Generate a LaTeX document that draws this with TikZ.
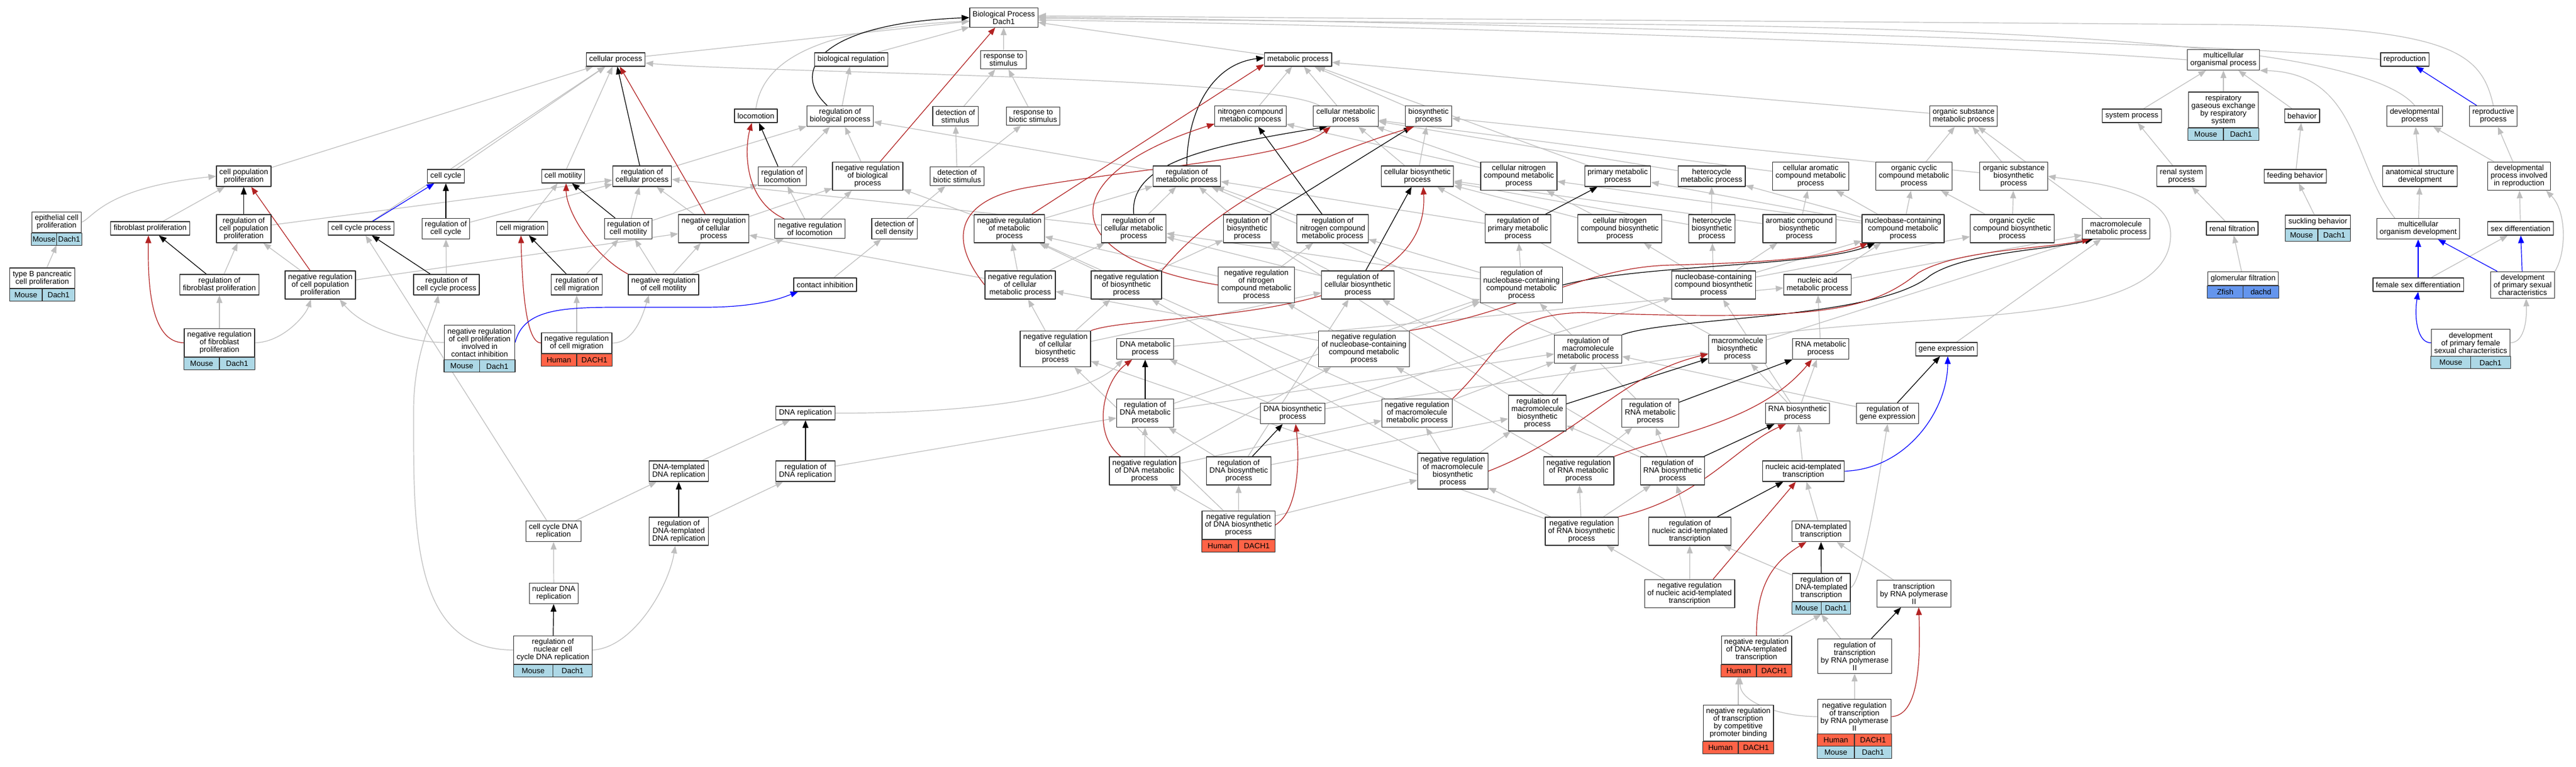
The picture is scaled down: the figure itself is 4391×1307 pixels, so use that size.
\documentclass[tikz,border=0pt]{standalone}
\usepackage{fontspec}
\setmainfont{Liberation Sans}
\usetikzlibrary{arrows.meta,calc,backgrounds}

\definecolor{isagrey}{HTML}{BEBEBE}
\definecolor{negred}{HTML}{B22222}
\definecolor{mousec}{HTML}{ADD8E6}
\definecolor{humanc}{HTML}{FF6347}
\definecolor{fishc}{HTML}{6495ED}

% species/gene strip under a term: node, row, fill, species, gene
\newcommand{\speciesbar}[5]{%
  \draw[barbox, fill=#3] ([yshift=-#2*21pt]#1.south west) rectangle ([yshift=-#2*21pt-21pt]#1.south east);
  \draw[barbox] ($([yshift=-#2*21pt]#1.south west)!.5!([yshift=-#2*21pt]#1.south east)$) -- ++(0,21);
  \node[bartext] at ($([yshift=-#2*21pt-10.5pt]#1.south west)!.25!([yshift=-#2*21pt-10.5pt]#1.south east)$) {#4};
  \node[bartext] at ($([yshift=-#2*21pt-10.5pt]#1.south west)!.75!([yshift=-#2*21pt-10.5pt]#1.south east)$) {#5};
}

\begin{document}
\begin{tikzpicture}[x=1pt, y=-1pt, font=\fontsize{13}{13}\selectfont, line join=round, >={Triangle[length=13pt,width=10pt]},
  term/.style={draw=black!80, line width=1.2pt, fill=white, align=center, inner xsep=5pt, inner ysep=5pt, minimum height=23pt},
  barbox/.style={draw=black!80, line width=1.2pt},
  bartext/.style={inner sep=0pt},
  isa/.style={->, draw=isagrey, line width=1.2pt},
  rg/.style={->, draw=black, line width=1.2pt},
  nrg/.style={->, draw=negred, line width=1.2pt},
  part/.style={->, draw=blue, line width=1.2pt}]
\useasboundingbox (0,0) rectangle (4391,1307);

% top levels
\node[term] (bp) at (1711,30) {Biological Process\\Dach1};
\node[term] (cellp) at (1049.5,101.5) {cellular process};
\node[term] (bioreg) at (1451,101.5) {biological regulation};
\node[term] (respstim) at (1710.5,102) {response to\\stimulus};
\node[term] (metp) at (2212.5,101.5) {metabolic process};
\node[term] (mcop) at (3790,102) {multicellular\\organismal process};
\node[term] (repro) at (4099,101.5) {reproduction};

\node[term] (locom) at (1288.5,197.5) {locomotion};
\node[term] (regbp) at (1432,198) {regulation of\\biological process};
\node[term] (detstim) at (1628.5,198) {detection of\\stimulus};
\node[term] (respbio) at (1761,198) {response to\\biotic stimulus};
\node[term] (ncmp) at (2131.5,198) {nitrogen compound\\metabolic process};
\node[term] (cmp) at (2294,198) {cellular metabolic\\process};
\node[term] (biosyn) at (2435,198) {biosynthetic\\process};
\node[term] (osmp) at (3347,198) {organic substance\\metabolic process};
\node[term] (sysp) at (3634,197.5) {system process};
\node[term] (resp) at (3790,187.5) {respiratory\\gaseous exchange\\by respiratory\\system};
\node[term] (behav) at (3924,197.5) {behavior};
\node[term] (devp) at (4116,198) {developmental\\process};
\node[term] (reprop) at (4250,198) {reproductive\\process};

\node[term] (cpp) at (415.5,300.5) {cell population\\proliferation};
\node[term] (ccyc) at (760,300.5) {cell cycle};
\node[term] (cmot) at (960,300.5) {cell motility};
\node[term] (regcp) at (1094.5,300.5) {regulation of\\cellular process};
\node[term] (regloc) at (1333.5,300.5) {regulation of\\locomotion};
\node[term] (nregbp) at (1479,300.5) {negative regulation\\of biological\\process};
\node[term] (detbio) at (1631.5,300.5) {detection of\\biotic stimulus};
\node[term] (regmp) at (2023,300.5) {regulation of\\metabolic process};
\node[term] (cbp) at (2416,300.5) {cellular biosynthetic\\process};
\node[term] (cncmp) at (2589,300.5) {cellular nitrogen\\compound metabolic\\process};
\node[term] (pmp) at (2757.5,300.5) {primary metabolic\\process};
\node[term] (hmp) at (2917.5,300.5) {heterocycle\\metabolic process};
\node[term] (camp) at (3086.5,300.5) {cellular aromatic\\compound metabolic\\process};
\node[term] (occmp) at (3262.5,300.5) {organic cyclic\\compound metabolic\\process};
\node[term] (osbp) at (3432.5,300.5) {organic substance\\biosynthetic\\process};
\node[term] (rsp) at (3718.5,300.5) {renal system\\process};
\node[term] (feed) at (3912.5,300.5) {feeding behavior};
\node[term] (asd) at (4125,300.5) {anatomical structure\\development};
\node[term] (dpir) at (4294,300.5) {developmental\\process involved\\in reproduction};

\node[term] (epi) at (96.5,379) {epithelial cell\\proliferation};
\node[term] (fibro) at (256,389.5) {fibroblast proliferation};
\node[term] (regcpp) at (415.5,390) {regulation of\\cell population\\proliferation};
\node[term] (ccp) at (615.5,389.5) {cell cycle process};
\node[term] (regcc) at (760,390) {regulation of\\cell cycle};
\node[term] (cmig) at (890,389.5) {cell migration};
\node[term] (regcmot) at (1071,390) {regulation of\\cell motility};
\node[term] (nregcp) at (1216.5,390) {negative regulation\\of cellular\\process};
\node[term] (nregloc) at (1380.5,390) {negative regulation\\of locomotion};
\node[term] (detcd) at (1524.5,390) {detection of\\cell density};
\node[term] (nregmp) at (1720.5,390) {negative regulation\\of metabolic\\process};
\node[term] (regcmp) at (1932.5,390) {regulation of\\cellular metabolic\\process};
\node[term] (regbsp) at (2126,390) {regulation of\\biosynthetic\\process};
\node[term] (regncmp) at (2271.5,390) {regulation of\\nitrogen compound\\metabolic process};
\node[term] (regpmp) at (2587.5,390) {regulation of\\primary metabolic\\process};
\node[term] (cncbp) at (2761,390) {cellular nitrogen\\compound biosynthetic\\process};
\node[term] (hbp) at (2918,390) {heterocycle\\biosynthetic\\process};
\node[term] (acbp) at (3067,390) {aromatic compound\\biosynthetic\\process};
\node[term] (ncmpn) at (3244,390) {nucleobase-containing\\compound metabolic\\process};
\node[term] (occbp) at (3430,390) {organic cyclic\\compound biosynthetic\\process};
\node[term] (mmp) at (3607,390) {macromolecule\\metabolic process};
\node[term] (renf) at (3805,389.5) {renal filtration};
\node[term] (suck) at (3951,378.5) {suckling behavior};
\node[term] (mod) at (4122,390) {multicellular\\organism development};
\node[term] (sexd) at (4296.5,389.5) {sex differentiation};

\node[term] (typeb) at (72,474.5) {type B pancreatic\\cell proliferation};
\node[term] (regfib) at (374,485.5) {regulation of\\fibroblast proliferation};
\node[term] (nregcpp) at (546,486) {negative regulation\\of cell population\\proliferation};
\node[term] (regccp) at (761,485.5) {regulation of\\cell cycle process};
\node[term] (regcmig) at (983,485.5) {regulation of\\cell migration};
\node[term] (nregcmot) at (1131,485.5) {negative regulation\\of cell motility};
\node[term] (continh) at (1406.5,485.5) {contact inhibition};
\node[term] (nregcmp) at (1739,486) {negative regulation\\of cellular\\metabolic process};
\node[term] (nregbsp) at (1920,486) {negative regulation\\of biosynthetic\\process};
\node[term] (nregncmp) at (2141.5,486) {negative regulation\\of nitrogen\\compound metabolic\\process};
\node[term] (regcbp) at (2314.5,486) {regulation of\\cellular biosynthetic\\process};
\node[term] (regnccmp) at (2593.5,486) {regulation of\\nucleobase-containing\\compound metabolic\\process};
\node[term] (ncbp) at (2921,486) {nucleobase-containing\\compound biosynthetic\\process};
\node[term] (namp) at (3098,485.5) {nucleic acid\\metabolic process};
\node[term] (glom) at (3823.5,475) {glomerular filtration};
\node[term] (fsd) at (4122,485.5) {female sex differentiation};
\node[term] (dpsc) at (4300,486) {development\\of primary sexual\\characteristics};

\node[term] (nregfib) at (374,584.5) {negative regulation\\of fibroblast\\proliferation};
\node[term] (nregci) at (817.5,584) {negative regulation\\of cell proliferation\\involved in\\contact inhibition};
\node[term] (nregcmig) at (983,585) {negative regulation\\of cell migration};
\node[term] (nregcbp) at (1799,595) {negative regulation\\of cellular\\biosynthetic\\process};
\node[term] (dnamp) at (1952,595) {DNA metabolic\\process};
\node[term] (nregnccmp) at (2325,595) {negative regulation\\of nucleobase-containing\\compound metabolic\\process};
\node[term] (regmmp) at (2707,595.5) {regulation of\\macromolecule\\metabolic process};
\node[term] (mbp) at (2961.5,595.5) {macromolecule\\biosynthetic\\process};
\node[term] (rnamp) at (3103.5,595) {RNA metabolic\\process};
\node[term] (geneexp) at (3318,595.5) {gene expression};
\node[term] (dpfsc) at (4211.5,584.5) {development\\of primary female\\sexual characteristics};

\node[term] (dnarep) at (1373,704.5) {DNA replication};
\node[term] (regdnamp) at (1952,704.5) {regulation of\\DNA metabolic\\process};
\node[term] (dnabp) at (2203.5,705) {DNA biosynthetic\\process};
\node[term] (nregmmp) at (2415.5,704.5) {negative regulation\\of macromolecule\\metabolic process};
\node[term] (regmbp) at (2620.5,704.5) {regulation of\\macromolecule\\biosynthetic\\process};
\node[term] (regrnamp) at (2813,704.5) {regulation of\\RNA metabolic\\process};
\node[term] (rnabp) at (3064,705) {RNA biosynthetic\\process};
\node[term] (reggeneexp) at (3217.5,705) {regulation of\\gene expression};

\node[term] (dtdnarep) at (1157,803.5) {DNA-templated\\DNA replication};
\node[term] (regdnarep) at (1373,803.5) {regulation of\\DNA replication};
\node[term] (nregdnamp) at (1951,803) {negative regulation\\of DNA metabolic\\process};
\node[term] (regdnabp) at (2111.5,803) {regulation of\\DNA biosynthetic\\process};
\node[term] (nregmbp) at (2476.5,803.5) {negative regulation\\of macromolecule\\biosynthetic\\process};
\node[term] (nregrnamp) at (2691,803) {negative regulation\\of RNA metabolic\\process};
\node[term] (regrnabp) at (2851,803) {regulation of\\RNA biosynthetic\\process};
\node[term] (natt) at (3074,803.5) {nucleic acid-templated\\transcription};

\node[term] (ccdnarep) at (943.5,906) {cell cycle DNA\\replication};
\node[term] (regdtdnarep) at (1157,906) {regulation of\\DNA-templated\\DNA replication};
\node[term] (nregdnabp) at (2111,895.5) {negative regulation\\of DNA biosynthetic\\process};
\node[term] (nregrnabp) at (2696,906) {negative regulation\\of RNA biosynthetic\\process};
\node[term] (regnatt) at (2880.5,906) {regulation of\\nucleic acid-templated\\transcription};
\node[term] (dtt) at (3104,906) {DNA-templated\\transcription};

\node[term] (nucdnarep) at (944,1012) {nuclear DNA\\replication};
\node[term] (nregnatt) at (2880,1012.5) {negative regulation\\of nucleic acid-templated\\transcription};
\node[term] (regdtt) at (3104.5,1002) {regulation of\\DNA-templated\\transcription};
\node[term] (trpol) at (3262.5,1012.5) {transcription\\by RNA polymerase\\II};

\node[term] (regnccdr) at (942.5,1108.5) {regulation of\\nuclear cell\\cycle DNA replication};
\node[term] (nregdtt) at (2994,1108.5) {negative regulation\\of DNA-templated\\transcription};
\node[term] (regtrpol) at (3161.5,1119) {regulation of\\transcription\\by RNA polymerase\\II};

\node[term] (nregcpb) at (2963,1233) {negative regulation\\of transcription\\by competitive\\promoter binding};
\node[term] (nregtrpol) at (3161,1222) {negative regulation\\of transcription\\by RNA polymerase\\II};

% species strips
\speciesbar{epi}{0}{mousec}{Mouse}{Dach1}
\speciesbar{typeb}{0}{mousec}{Mouse}{Dach1}
\speciesbar{nregfib}{0}{mousec}{Mouse}{Dach1}
\speciesbar{nregci}{0}{mousec}{Mouse}{Dach1}
\speciesbar{nregcmig}{0}{humanc}{Human}{DACH1}
\speciesbar{resp}{0}{mousec}{Mouse}{Dach1}
\speciesbar{suck}{0}{mousec}{Mouse}{Dach1}
\speciesbar{glom}{0}{fishc}{Zfish}{dachd}
\speciesbar{dpfsc}{0}{mousec}{Mouse}{Dach1}
\speciesbar{nregdnabp}{0}{humanc}{Human}{DACH1}
\speciesbar{regdtt}{0}{mousec}{Mouse}{Dach1}
\speciesbar{nregdtt}{0}{humanc}{Human}{DACH1}
\speciesbar{regnccdr}{0}{mousec}{Mouse}{Dach1}
\speciesbar{nregcpb}{0}{humanc}{Human}{DACH1}
\speciesbar{nregtrpol}{0}{humanc}{Human}{DACH1}
\speciesbar{nregtrpol}{1}{mousec}{Mouse}{Dach1}

\coordinate (epibar) at ([yshift=-21pt]epi.south);
\coordinate (regdttbar) at ([yshift=-21pt]regdtt.south);
\coordinate (nregdttbar) at ([yshift=-21pt]nregdtt.south);

\begin{pgfonlayer}{background}
\fill[white] (0,0) rectangle (4391,1307);
% is_a
\foreach \a/\b in {cellp/bp, bioreg/bp, respstim/bp, metp/bp,
  regbp/bioreg, detstim/respstim, respbio/respstim, detbio/detstim, detbio/respbio, detcd/detbio, continh/detcd,
  regloc/regbp, nregbp/regbp, regcp/regbp, regmp/regbp, nregloc/regloc, nregloc/nregbp, regcmot/regloc, nregcmot/nregloc,
  nregcp/regcp, nregcp/nregbp, nregmp/nregbp, nregmp/regmp,
  cpp/cellp, fibro/cpp, regcpp/regcp, nregcpp/regcpp, nregcpp/nregcp, regfib/regcpp, nregfib/regfib,
  ccyc/cellp, ccp/cellp, regcc/regcp, regccp/regcc, cmot/cellp, cmig/cmot, regcmot/regcp, regcmig/regcmot, nregcmot/regcmot,
  nregcmot/nregcp, nregcmig/regcmig,
  ccdnarep/ccp, ccdnarep/dtdnarep, nucdnarep/ccdnarep,
  dtdnarep/dnarep, regdtdnarep/regdnarep, regdnarep/regdnamp,
  cmp/metp, ncmp/metp, biosyn/metp, osmp/metp, pmp/metp,
  cbp/biosyn, cbp/cmp, cncmp/ncmp, cncmp/cmp, hmp/cmp, camp/cmp, occmp/osmp, osbp/osmp, osbp/biosyn, mmp/osmp,
  ncmpn/cncmp, ncmpn/hmp, ncmpn/camp, ncmpn/occmp, ncmpn/pmp,
  cncbp/cncmp, cncbp/cbp, hbp/hmp, hbp/cbp, acbp/camp, acbp/cbp, occbp/occmp, occbp/osbp,
  ncbp/ncmpn, ncbp/cncbp, ncbp/hbp, ncbp/acbp, ncbp/occbp,
  namp/ncmpn, namp/mmp, rnamp/namp, dnamp/namp, mbp/mmp, mbp/cbp,
  geneexp/mmp, dnabp/dnamp, dnabp/ncbp, dnabp/mbp, rnabp/rnamp, rnabp/ncbp, rnabp/mbp, natt/rnabp, dtt/natt, trpol/dtt,
  regcmp/regmp, regcmp/regcp, regbsp/regmp, regncmp/regmp, regpmp/regmp, regmmp/regmp,
  nregcmp/nregmp, nregcmp/regcmp, nregcmp/nregcp, nregbsp/nregmp, nregbsp/regbsp, nregncmp/nregmp, nregncmp/regncmp,
  regcbp/regbsp, regcbp/regcmp, regnccmp/regcmp, regnccmp/regncmp, regnccmp/regpmp,
  nregcbp/nregcmp, nregcbp/nregbsp, nregcbp/regcbp, nregnccmp/regnccmp, nregnccmp/nregcmp, nregnccmp/nregncmp,
  nregmmp/regmmp, nregmmp/nregmp, regdnamp/regmmp, regdnamp/regnccmp,
  nregdnamp/regdnamp, nregdnamp/nregmmp, nregdnamp/nregnccmp, regdnabp/regdnamp, regdnabp/regcbp, regdnabp/regmbp,
  nregdnabp/regdnabp, nregdnabp/nregdnamp, nregdnabp/nregcbp, nregdnabp/nregmbp,
  regmbp/regbsp, regmbp/regmmp, nregmbp/regmbp, nregmbp/nregbsp, nregmbp/nregmmp,
  regrnamp/regnccmp, nregrnamp/regrnamp, nregrnamp/nregnccmp, regrnabp/regrnamp, regrnabp/regcbp, regrnabp/regmbp,
  nregrnabp/regrnabp, nregrnabp/nregrnamp, nregrnabp/nregmbp, nregrnabp/nregcbp,
  regnatt/regrnabp, nregnatt/regnatt, nregnatt/nregrnabp, reggeneexp/regmmp, regdtt/regnatt,
  nregtrpol/regtrpol,
  sysp/mcop, resp/mcop, behav/mcop, rsp/sysp, renf/rsp, glom/renf, feed/behav, suck/feed,
  asd/devp, dpir/devp, dpir/reprop, mod/asd, sexd/dpir, fsd/sexd}
  \draw[isa] (\a) -- (\b);
% is_a, routed round
\draw[isa] (mcop.west) .. controls (3300,70) and (2300,42) .. ([yshift=-4pt]bp.east);
\draw[isa] (repro.west) .. controls (3800,70) and (2400,36) .. ([yshift=1pt]bp.east);
\draw[isa] (devp.north) .. controls (4040,90) and (3600,45) .. (2600,40) -- ([yshift=-1pt]bp.east);
\draw[isa] (reprop.north) .. controls (4230,90) and (4180,48) .. (3800,42) -- ([yshift=3pt]bp.east);
\draw[isa] (locom.north) .. controls (1300,100) and (1400,48) .. ([yshift=-6pt]bp.west);
\draw[isa] ([xshift=-45pt]cmp.north) .. controls (2150,128) and (1300,125) .. ([yshift=-6pt]cellp.east);
\draw[isa] (epi.east) .. controls (160,370) and (180,320) .. (cpp.west);
\draw[isa] (nregfib.east) .. controls (480,584) and (520,540) .. ([xshift=-16pt]nregcpp.south);
\draw[isa] (nregci.west) .. controls (700,584) and (620,560) .. ([xshift=33pt]nregcpp.south);
\draw[isa] (nregcmig.east) .. controls (1080,585) and (1095,540) .. ([xshift=-25pt]nregcmot.south);
\draw[isa] (regnccdr.west) .. controls (700,1108) and (705,900) .. (705,700) .. controls (705,600) and (740,540) .. ([xshift=-14pt]regccp.south);
\draw[isa] (regnccdr.east) .. controls (1080,1105) and (1140,1000) .. ([xshift=-6pt]regdtdnarep.south);
\draw[isa] (dnarep.east) .. controls (1650,705) and (1850,680) .. ([xshift=-38pt]dnamp.south);
\draw[isa] (mbp.north east) .. controls (3300,530) and (3700,560) .. (3700,400) .. controls (3700,320) and (3550,310) .. (osbp.east);
\draw[isa] (regdtt.east) .. controls (3175,995) and (3205,800) .. (reggeneexp.south);
\draw[isa] ([xshift=-40pt]mod.north) .. controls (4010,280) and (4020,125) .. (mcop.south east);
\draw[isa] (dpsc.north east) .. controls (4375,430) and (4375,360) .. ([xshift=-8pt]dpir.south east);
\draw[isa] (dpfsc.east) .. controls (4305,584) and (4307,540) .. ([xshift=6pt]dpsc.south);
\draw[isa] (typeb) -- (epibar);
\draw[isa] (nregdtt) -- (regdttbar);
\draw[isa] (regtrpol) -- (regdttbar);
\draw[isa] (nregcpb) -- ([xshift=-31pt]nregdttbar);
\draw[isa] (nregtrpol.west) .. controls (3040,1222) and (2966,1200) .. ([xshift=-28pt]nregdttbar);

% regulates
\draw[rg] ([xshift=-22pt]regbp.north) .. controls (1345,120) and (1400,40) .. (bp.west);
\draw[rg] (regcp) -- (cellp);
\draw[rg] (regmp.north) .. controls (2023,200) and (2060,110) .. ([yshift=3pt]metp.west);
\draw[rg] (regcmp.north) .. controls (1925,280) and (2050,250) .. ([xshift=-32pt]cmp.south);
\draw[rg] (regbsp) -- (biosyn);
\draw[rg] (regncmp) -- (ncmp);
\draw[rg] (regpmp) -- (pmp);
\draw[rg] (regcbp) -- (cbp);
\draw[rg] (regnccmp.east) .. controls (2800,450) and (3100,455) .. ([xshift=-48pt]ncmpn.south);
\draw[rg] (regmmp.north east) .. controls (2850,540) and (3200,545) .. (3290,470) .. controls (3350,430) and (3500,425) .. ([xshift=-40pt]mmp.south);
\draw[rg] (regdnamp) -- (dnamp);
\draw[rg] (regmbp) -- (mbp);
\draw[rg] (regrnamp) -- (rnamp);
\draw[rg] (regdnabp) -- (dnabp);
\draw[rg] (regrnabp) -- (rnabp);
\draw[rg] (regnatt) -- (natt);
\draw[rg] (reggeneexp) -- (geneexp);
\draw[rg] (regdtt) -- (dtt);
\draw[rg] (regtrpol) -- (trpol);
\draw[rg] (regdnarep) -- (dnarep);
\draw[rg] (regdtdnarep) -- (dtdnarep);
\draw[rg] (regnccdr) -- (nucdnarep);
\draw[rg] (regcpp) -- (cpp);
\draw[rg] (regfib) -- (fibro);
\draw[rg] (regcc) -- (ccyc);
\draw[rg] (regccp) -- (ccp);
\draw[rg] (regcmot) -- (cmot);
\draw[rg] (regcmig) -- (cmig);
\draw[rg] (regloc) -- (locom);

% negatively regulates
\draw[nrg] (nregbp) -- (bp);
\draw[nrg] (nregcp) -- (cellp);
\draw[nrg] (nregmp) -- ([yshift=-8pt]metp.west);
\draw[nrg] (nregcmp.west) .. controls (1610,400) and (1640,340) .. (1750,320) .. controls (1950,285) and (2200,270) .. ([xshift=-26pt]cmp.south);
\draw[nrg] (nregbsp.north east) .. controls (2080,340) and (2250,265) .. ([xshift=-25pt]biosyn.south);
\draw[nrg] (nregncmp.west) .. controls (1800,440) and (1790,300) .. ([yshift=5pt]ncmp.south west);
\draw[nrg] (nregcbp.north east) .. controls (1950,530) and (2440,560) .. ([xshift=10pt]cbp.south);
\draw[nrg] (nregnccmp.north east) .. controls (2600,530) and (2700,455) .. (2850,452) .. controls (3000,448) and (3120,440) .. ([xshift=-60pt]ncmpn.south);
\draw[nrg] (nregmmp.north east) .. controls (2560,600) and (2560,535) .. (2700,533) .. controls (3100,548) and (3190,530) .. (3270,465) .. controls (3340,425) and (3480,425) .. ([xshift=-45pt]mmp.south);
\draw[nrg] ([xshift=20pt]nregdnamp.north west) .. controls (1860,740) and (1880,650) .. ([xshift=-22pt]dnamp.south);
\draw[nrg] (nregmbp.east) .. controls (2700,740) and (2760,640) .. ([yshift=-8pt]mbp.west);
\draw[nrg] (nregrnamp.north east) .. controls (2850,740) and (3000,720) .. ([xshift=-15pt]rnamp.south);
\draw[nrg] (nregdnabp.east) .. controls (2215,870) and (2215,780) .. ([xshift=5pt]dnabp.south);
\draw[nrg] (nregrnabp.north east) .. controls (2900,850) and (2960,760) .. ([xshift=-20pt]rnabp.south);
\draw[nrg] ([xshift=40pt]nregnatt.north) -- ([xshift=-13pt]natt.south);
\draw[nrg] (nregdtt.north) .. controls (2994,1000) and (3020,960) .. ([xshift=-25pt]dtt.south);
\draw[nrg] (nregtrpol.east) .. controls (3265,1220) and (3275,1150) .. ([xshift=8pt]trpol.south);
\draw[nrg] (nregcpp) -- (cpp);
\draw[nrg] (nregfib.west) .. controls (255,584) and (252,480) .. ([xshift=-3pt]fibro.south);
\draw[nrg] (nregcmot.north west) .. controls (1010,435) and (965,360) .. ([xshift=5pt]cmot.south);
\draw[nrg] (nregcmig.west) .. controls (895,585) and (890,480) .. ([xshift=-2pt]cmig.south);
\draw[nrg] ([xshift=17pt]nregloc.north west) .. controls (1265,340) and (1270,250) .. ([xshift=-7pt]locom.south);

% part of
\draw[part] (ccp) -- (ccyc);
\draw[part] (nregci.east) .. controls (892,530) and (950,524) .. (1050,524) -- (1200,524) .. controls (1300,524) and (1340,505) .. ([xshift=8pt]continh.south west);
\draw[part] (reprop) -- (repro);
\draw[part] (natt.east) .. controls (3250,800) and (3320,700) .. ([xshift=2pt]geneexp.south);
\draw[part] (fsd) -- (mod);
\draw[part] (dpsc) -- (mod);
\draw[part] (dpsc) -- (sexd);
\draw[part] (dpfsc.west) .. controls (4120,585) and (4115,540) .. (fsd.south);
\end{pgfonlayer}
\end{tikzpicture}
\end{document}
